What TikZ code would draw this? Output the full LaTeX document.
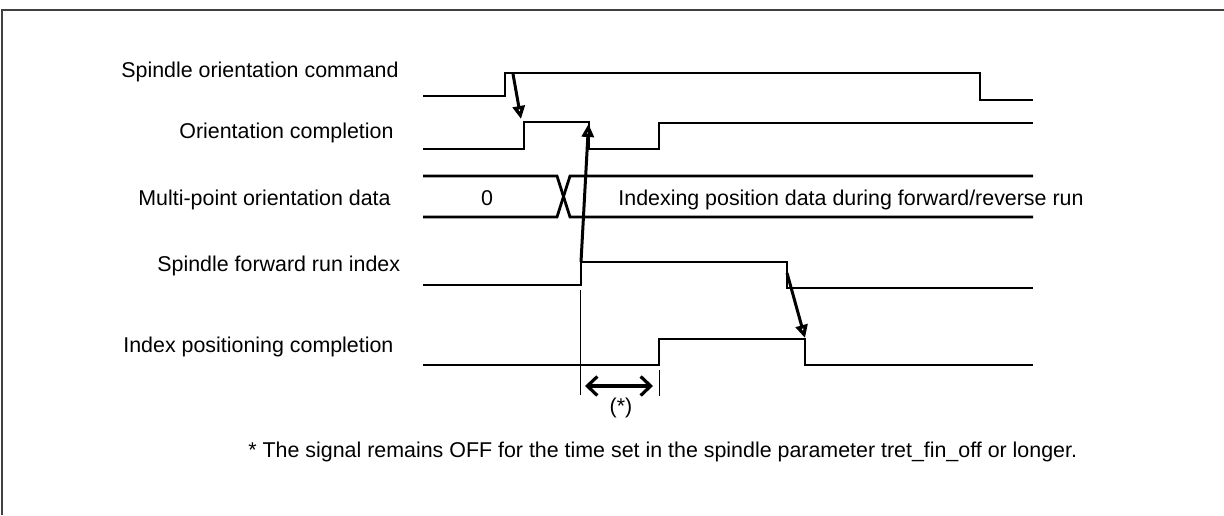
\documentclass[tikz,border=0pt]{standalone}
\usepackage{fontspec}
\setmainfont{Liberation Sans}
\usetikzlibrary{positioning, arrows.meta}

\begin{document}
\begin{tikzpicture}[
    x=0.5pt, y=-0.5pt,
    >=Stealth,
    sig/.style={line width=1.4pt, line join=miter},
    lbl/.style={font=\fontsize{10.7}{12}\selectfont, inner sep=0pt, anchor=base west},
    evt/.style={-{Triangle[open, length=6.5pt, width=6pt, line width=1.8pt]}, line width=1.5pt},
    guide/.style={line width=0.5pt},
    span/.style={{Straight Barb[length=5pt, width=9.5pt]}-{Straight Barb[length=5pt, width=9.5pt]}, line width=1.6pt}
]
\useasboundingbox (0,0) rectangle (1224,515);

% frame
\draw[line width=0.9pt, black!75] (2,515) -- (2,10) -- (1224,10);

% signal names
\foreach \txt/\x/\y [count=\i] in {Spindle orientation command/121/77,
    Orientation completion/179/138, Multi-point orientation data/138/205,
    Spindle forward run index/157/271, Index positioning completion/123/352} {
    \node[lbl] (lbl\i) at (\x,\y) {\txt};
}

% Spindle orientation command
\draw[sig] (423,96) -- (505,96) -- (505,73) -- (980,73) -- (980,100) -- (1033,100);

% Orientation completion
\draw[sig] (423,149) -- (524,149) -- (524,122) -- (589,122) -- (589,149)
    -- (659,149) -- (659,123) -- (1033,123);

% Multi-point orientation data
\draw[sig] (423,176) -- (557,176) -- (570,217) -- (1033,217);
\draw[sig] (423,217) -- (557,217) -- (570,176) -- (1033,176);
\node[lbl, anchor=base] (zero) at (487,205) {0};
\node[lbl] (idxdata) at (618,205) {Indexing position data during forward/reverse run};

% Spindle forward run index
\draw[sig] (423,285) -- (581,285) -- (581,262) -- (787,262) -- (787,288) -- (1033,288);

% Index positioning completion
\draw[sig] (423,365) -- (659,365) -- (659,339) -- (805,339) -- (805,365) -- (1033,365);

% events
\coordinate (cmdon) at (513,74);
\coordinate (orion) at (521,119);
\coordinate (fwdon) at (581,262);
\coordinate (orioff) at (588.5,124);
\coordinate (fwdoff) at (787,273);
\coordinate (posoff) at (805,338);
\draw[evt] (cmdon) -- (orion);
\draw[evt] (fwdon) -- (orioff);
\draw[evt] (fwdoff) -- (posoff);

% OFF time
\coordinate (gl) at (580,290);
\coordinate (gr) at (659,370);
\draw[guide] (gl) -- (580,395);
\draw[guide] (gr) -- (659,396);
\coordinate (sl) at (585,386);
\coordinate (sr) at (653,386);
\draw[span] (sl) -- (sr);
\node[font=\fontsize{10.7}{12}\selectfont, inner sep=0pt] (star) at (621,408) {(*)};

% note
\node[lbl] (note) at (248,457) {* The signal remains OFF for the time set in the spindle parameter tret\_fin\_off or longer.};

\end{tikzpicture}
\end{document}
